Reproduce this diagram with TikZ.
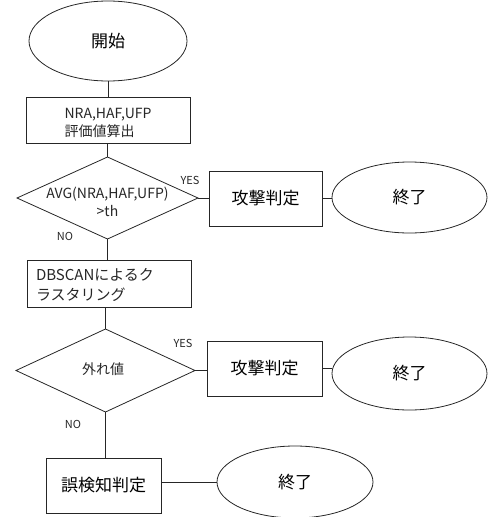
\documentclass[tikz,border=0pt]{standalone}
\usepackage{fontspec}
\setmainfont{Noto Sans CJK JP}
\usetikzlibrary{shapes.geometric}
\begin{document}
\begin{tikzpicture}[x=1pt,y=-1pt,
  every node/.style={inner sep=0pt, outer sep=0pt},
  line/.style={draw=black!85, line width=0.8pt},
  term/.style={line, ellipse, minimum width=156pt, minimum height=72pt, font=\fontsize{17}{20}\selectfont},
  proc/.style={line, rectangle},
  dec/.style={line, diamond},
  lab/.style={font=\fontsize{11}{13}\selectfont, text=black!85},
  txt/.style={font=\fontsize{14}{18}\selectfont, text=black!85}
]
\useasboundingbox (0,0) rectangle (491,517);
% column 1
\node[term, minimum width=158pt, minimum height=80pt] (start) at (108,41) {開始};
\node[proc, minimum width=164pt, minimum height=46pt] (box1) at (108,120) {};
\node[txt, align=left] (box1t) at (108,123) {NRA,HAF,UFP\\評価値算出};
\node[dec, minimum width=181pt, minimum height=82pt] (dia1) at (107.5,198) {};
\node[txt, align=center] (dia1t) at (107.5,202) {AVG(NRA,HAF,UFP)\\>th};
\node[proc, minimum width=164pt, minimum height=47pt] (box2) at (109,283.5) {};
\node[txt, align=left, font=\fontsize{15}{20}\selectfont, anchor=west] (box2t) at (36,285) {DBSCANによるク\\ラスタリング};
\node[dec, minimum width=179pt, minimum height=83pt] (dia2) at (105.5,370.5) {};
\node[txt] (dia2t) at (103,369) {外れ値};
\node[proc, minimum width=115pt, minimum height=55pt, font=\fontsize{17}{20}\selectfont] (box3) at (103.5,485.5) {誤検知判定};
% right side
\node[proc, minimum width=113pt, minimum height=55pt, font=\fontsize{17}{20}\selectfont] (atk1) at (265.5,198.5) {攻撃判定};
\node[term, minimum width=155pt, minimum height=71pt] (end1) at (409.5,197.5) {終了};
\node[proc, minimum width=115pt, minimum height=55pt, font=\fontsize{17}{20}\selectfont] (atk2) at (264.5,368.5) {攻撃判定};
\node[term, minimum width=155pt, minimum height=73pt] (end2) at (409.5,373.5) {終了};
\node[term, minimum width=156pt, minimum height=72pt] (end3) at (295,482) {終了};
% connectors
\draw[line] (start.south) -- (box1.north -| start.south);
\draw[line] (box1.south -| dia1.north) -- (dia1.north);
\draw[line] (dia1.south) -- (box2.north -| dia1.south);
\draw[line] (box2.south -| dia2.north) -- (dia2.north);
\draw[line] (dia2.south) -- (box3.north -| dia2.south);
\draw[line] (dia1.east) -- (dia1.east -| atk1.west);
\draw[line] (atk1.east) -- (atk1.east -| end1.west);
\draw[line] (dia2.east) -- (dia2.east -| atk2.west);
\draw[line] (atk2.east) -- (atk2.east -| end2.west);
\draw[line] (box3.east |- end3.west) -- (end3.west);
% labels
\node[lab] (yes1) at (190,180) {YES};
\node[lab] (no1) at (65,236) {NO};
\node[lab] (yes2) at (183,343) {YES};
\node[lab] (no2) at (73,424) {NO};
\end{tikzpicture}
\end{document}
